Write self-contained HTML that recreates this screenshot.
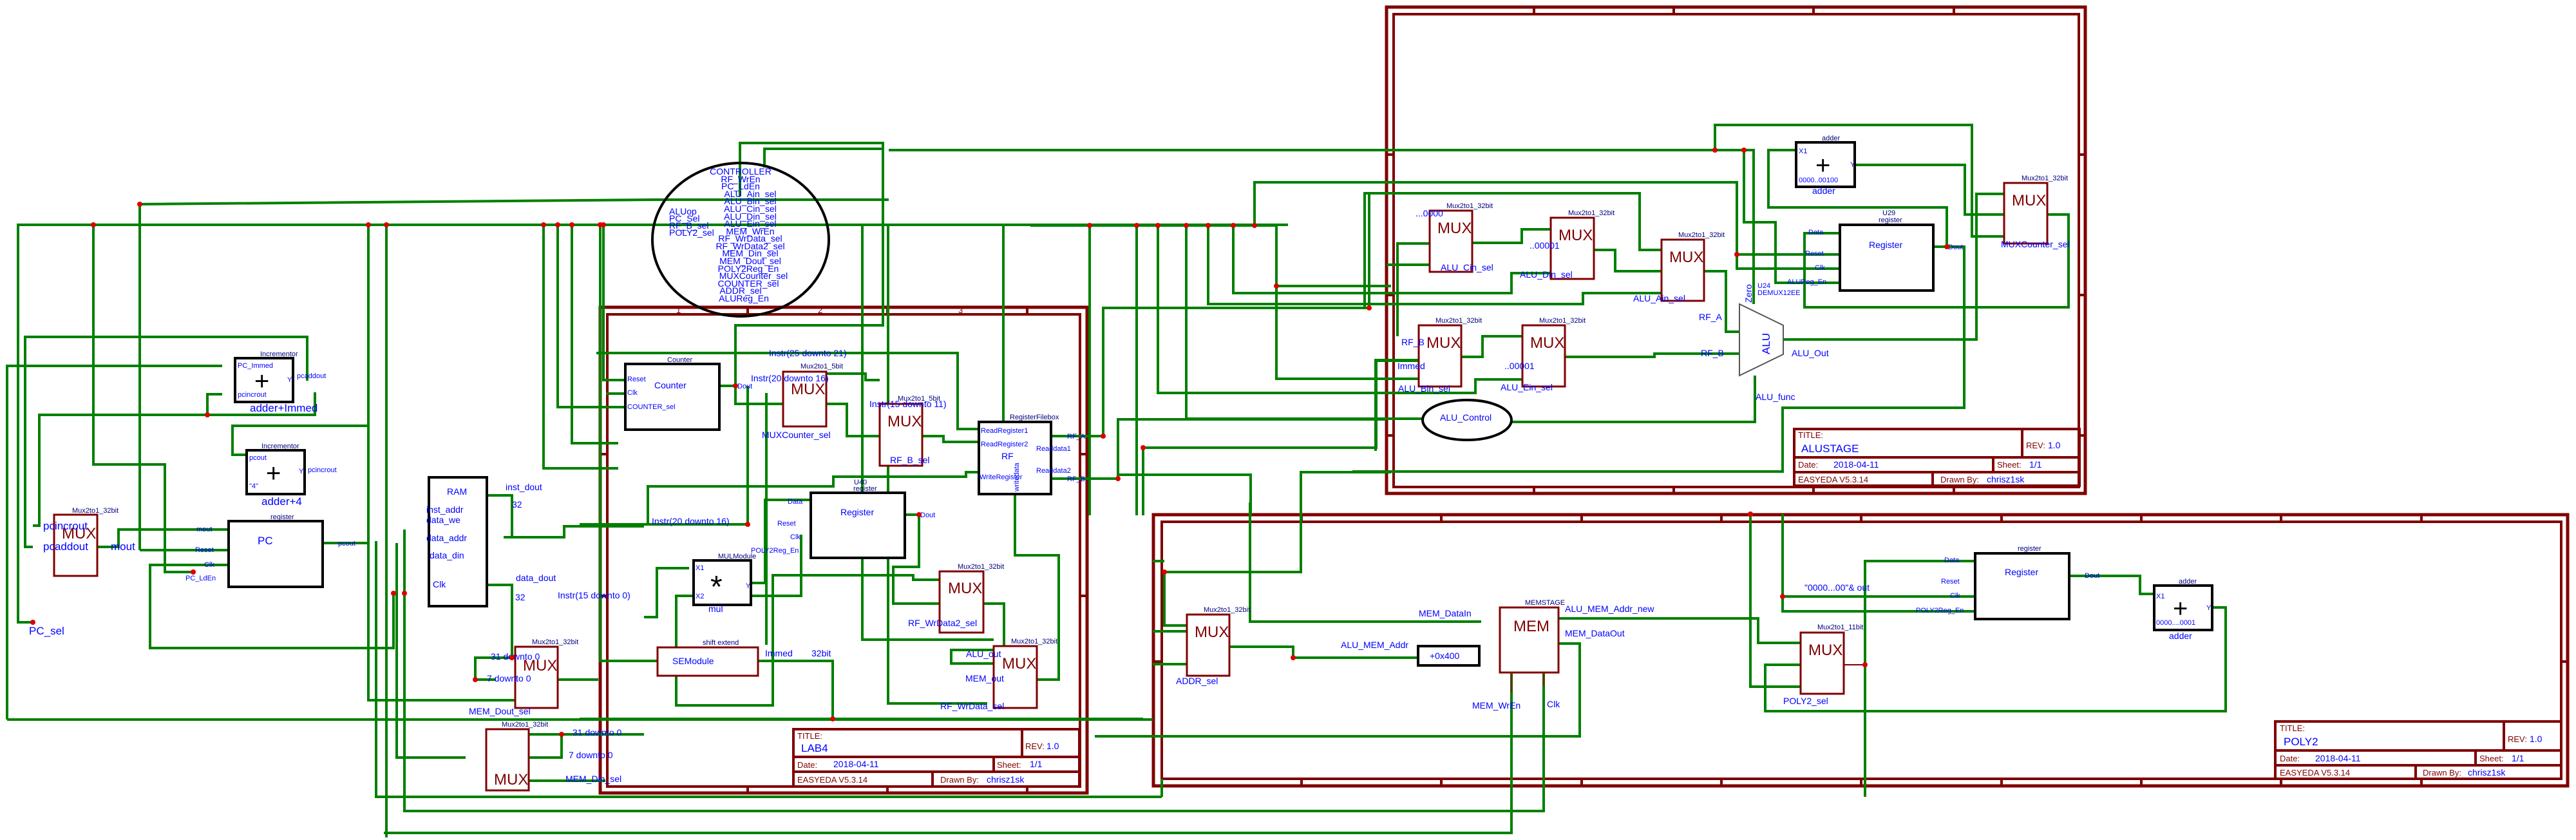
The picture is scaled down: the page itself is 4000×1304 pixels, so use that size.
<!DOCTYPE html>
<html><head><meta charset="utf-8"><style>
html,body{margin:0;padding:0;background:#fff;}
svg{display:block;font-family:"Liberation Sans","DejaVu Sans",sans-serif;}
.w{fill:none;stroke:#008000;stroke-width:4;}
.fr{fill:none;stroke:#800000;stroke-width:5;}
.fi{fill:none;stroke:#800000;stroke-width:4;}
.tk{stroke:#800000;stroke-width:4;}
.mx{fill:#fff;stroke:#800000;stroke-width:3;}
.pin{stroke:#800000;stroke-width:2;}
.bx{fill:#fff;stroke:#000;stroke-width:4;}
.mt{fill:#800000;font-size:24px;}
.b{fill:#0000ff;font-size:14px;}
.bs{fill:#0000ff;font-size:11px;}
.bl{fill:#0000ff;font-size:17px;}
.nm{fill:#000080;font-size:11px;}
.r{fill:#800000;font-size:13px;}
.dot{fill:#d00;}
</style></head><body>
<svg width="4000" height="1304" viewBox="0 0 4000 1304" xmlns="http://www.w3.org/2000/svg">
<rect width="4000" height="1304" fill="#fff"/>

<!-- FRAMES -->
<rect class="fr" x="932" y="477" width="756" height="754"/>
<rect class="fi" x="943" y="488" width="734" height="733"/>
<line class="tk" x1="1161" y1="477" x2="1161" y2="488"/><line class="tk" x1="1378" y1="477" x2="1378" y2="488"/><line class="tk" x1="1595" y1="477" x2="1595" y2="488"/>
<line class="tk" x1="1161" y1="1221" x2="1161" y2="1231"/><line class="tk" x1="1378" y1="1221" x2="1378" y2="1231"/><line class="tk" x1="1595" y1="1221" x2="1595" y2="1231"/>
<line class="tk" x1="932" y1="705" x2="943" y2="705"/><line class="tk" x1="932" y1="925" x2="943" y2="925"/><line class="tk" x1="1677" y1="705" x2="1688" y2="705"/><line class="tk" x1="1677" y1="925" x2="1688" y2="925"/>
<text class="r" x="1050" y="486" font-size="10">1</text><text class="r" x="1270" y="486" font-size="10">2</text><text class="r" x="1488" y="486" font-size="10">3</text>
<rect class="fr" x="2153" y="11" width="1085" height="755"/>
<rect class="fi" x="2164" y="22" width="1064" height="734"/>
<line class="tk" x1="2382" y1="11" x2="2382" y2="22"/><line class="tk" x1="2599" y1="11" x2="2599" y2="22"/><line class="tk" x1="2816" y1="11" x2="2816" y2="22"/><line class="tk" x1="3034" y1="11" x2="3034" y2="22"/>
<line class="tk" x1="2382" y1="756" x2="2382" y2="766"/><line class="tk" x1="2599" y1="756" x2="2599" y2="766"/><line class="tk" x1="2816" y1="756" x2="2816" y2="766"/><line class="tk" x1="3034" y1="756" x2="3034" y2="766"/>
<line class="tk" x1="2153" y1="240" x2="2164" y2="240"/><line class="tk" x1="2153" y1="458" x2="2164" y2="458"/><line class="tk" x1="2153" y1="676" x2="2164" y2="676"/>
<line class="tk" x1="3228" y1="240" x2="3238" y2="240"/><line class="tk" x1="3228" y1="458" x2="3238" y2="458"/><line class="tk" x1="3228" y1="676" x2="3238" y2="676"/>
<rect class="fr" x="1791" y="799" width="2196" height="421"/>
<rect class="fi" x="1804" y="810" width="2173" height="399"/>
<g class="tk">
<line x1="2021" y1="799" x2="2021" y2="810"/><line x1="2238" y1="799" x2="2238" y2="810"/><line x1="2456" y1="799" x2="2456" y2="810"/><line x1="2673" y1="799" x2="2673" y2="810"/><line x1="2890" y1="799" x2="2890" y2="810"/><line x1="3108" y1="799" x2="3108" y2="810"/><line x1="3325" y1="799" x2="3325" y2="810"/><line x1="3542" y1="799" x2="3542" y2="810"/><line x1="3760" y1="799" x2="3760" y2="810"/>
<line x1="2021" y1="1209" x2="2021" y2="1220"/><line x1="2238" y1="1209" x2="2238" y2="1220"/><line x1="2456" y1="1209" x2="2456" y2="1220"/><line x1="2673" y1="1209" x2="2673" y2="1220"/><line x1="2890" y1="1209" x2="2890" y2="1220"/><line x1="3108" y1="1209" x2="3108" y2="1220"/><line x1="3325" y1="1209" x2="3325" y2="1220"/><line x1="3542" y1="1209" x2="3542" y2="1220"/><line x1="3760" y1="1209" x2="3760" y2="1220"/>
<line x1="3977" y1="1027" x2="3987" y2="1027"/><line x1="1791" y1="1027" x2="1804" y2="1027"/>
</g>

<!-- WIRES -->
<g class="w">
<polyline points="217,854 217,317 1020,310"/>
<polyline points="355,854 217,854"/>
<polyline points="51,966 28,966 28,349 2000,349"/>
<polyline points="145,349 145,721 256,721 256,888 300,888"/>
<polyline points="51,849 39,849 39,523 477,523 477,591"/>
<polyline points="11,1117 11,568 345,568"/>
<polyline points="345,612 322,612 322,644"/>
<polyline points="51,816 61,816 61,644 489,644 489,609"/>
<polyline points="383,706 361,706 361,661 572,661"/>
<polyline points="572,349 572,1087 800,1087"/>
<polyline points="584,840 584,1237 1804,1237"/>
<polyline points="600,349 600,1300"/>
<polyline points="628,822 628,1259 2397,1259 2397,1044"/>
<polyline points="616,843 616,1176 723,1176"/>
<polyline points="611,921 611,1006 233,1006 233,877 355,877"/>
<polyline points="501,843 570,843"/>
<polyline points="151,849 184,849 184,822 355,822"/>
<polyline points="756,769 795,769 795,834 782,834"/>
<polyline points="782,834 876,834 876,817 1000,817"/>
<polyline points="756,908 795,908 795,1021 738,1021 738,1055 770,1055"/>
<polyline points="866,1055 929,1055"/>
<polyline points="11,1117 1790,1117"/>
<polyline points="821,1140 872,1140 872,1176 821,1176"/>
<polyline points="872,1140 1000,1140"/>
<polyline points="821,1212 940,1212"/>
<polyline points="844,349 844,727 960,727"/>
<polyline points="866,349 866,632 971,632"/>
<polyline points="888,349 888,688 960,688"/>
<polyline points="932,349 932,1026 1021,1026"/>
<polyline points="937,349 937,590 971,590"/>
<polyline points="941,611 971,611"/>
<polyline points="596,1293 2347,1293 2347,1044"/>
<polyline points="1149,305 1149,222 1371,222 1371,505 1142,505 1142,627 1216,627"/>
<polyline points="1117,599 1145,599"/>
<polyline points="1187,260 1187,231 1373,231"/>
<polyline points="926,548 1487,548 1487,666 1520,666"/>
<polyline points="900,814 1161,814 1161,599"/>
<polyline points="1006,814 1006,755 1294,755 1294,740 1500,740 1500,733 1520,733"/>
<polyline points="1283,627 1315,627 1315,677 1366,677"/>
<polyline points="1432,677 1465,677 1465,686 1520,686"/>
<polyline points="1405,799 1427,799 1427,880 1387,880 1387,937 1459,937"/>
<polyline points="1576,767 1576,862 1644,862 1644,1055 1610,1055"/>
<polyline points="1527,937 1559,937 1559,1009 1477,1009 1477,1030 1543,1030"/>
<polyline points="1177,1026 1293,1026 1293,1116"/>
<polyline points="1166,905 1188,905 1188,776 1259,776"/>
<polyline points="900,1116 1775,1116"/>
<polyline points="1020,310 1380,310"/>
<polyline points="1070,882 1020,882 1020,958 1000,958"/>
<polyline points="1070,925 1050,925 1050,1095 1200,1095 1200,893 1418,893 1418,900 1459,900"/>
<polyline points="1339,349 1339,993 1543,993"/>
<polyline points="1379,349 1379,1092 1533,1092"/>
<polyline points="1558,349 1558,655"/>
<polyline points="1283,580 1344,580 1344,590 1366,590"/>
<polyline points="1190,610 1190,1001"/>
<polyline points="1244,830 1244,925 1070,925"/>
<polyline points="1380,233 2723,233 2723,472"/>
<polyline points="1600,350 1982,350 1982,588 2203,588"/>
<polyline points="1982,444 2160,444"/>
<polyline points="1948,350 1948,283 2697,283 2697,417 2857,417"/>
<polyline points="1915,350 1915,455 2100,455 2347,455 2347,424 2408,424"/>
<polyline points="1876,350 1876,472 2458,472 2458,455 2580,455"/>
<polyline points="1798,350 1798,610 2291,610 2291,589 2364,589"/>
<polyline points="1842,350 1842,650 2209,650"/>
<polyline points="1765,350 1765,800"/>
<polyline points="1692,350 1692,800"/>
<polyline points="1632,677 1713,677 1713,478 2126,478 2126,300 2119,300"/>
<polyline points="1632,743 1736,743 1736,651 2152,651"/>
<polyline points="1736,737 1942,737 1942,800"/>
<polyline points="1775,800 1775,695 2137,695 2137,560 2203,560"/>
<polyline points="2020,800 2020,733 2160,733"/>
<polyline points="2119,477 2119,300 2546,300 2546,388 2580,388"/>
<polyline points="2663,233 2663,194 3062,194 3062,367 3112,367"/>
<polyline points="2708,233 2708,345 2757,345 2757,439 2857,439"/>
<polyline points="2697,395 2857,395"/>
<polyline points="2880,256 3051,256 3051,333 3112,333"/>
<polyline points="2789,233 2746,233 2746,322 3023,322 3023,383"/>
<polyline points="3002,383 3050,383 3050,633 2768,633 2768,732 2100,732"/>
<polyline points="3179,333 3212,333 3212,477 2802,477 2802,362 2857,362"/>
<polyline points="2769,527 3069,527 3069,301 3112,301"/>
<polyline points="2286,377 2363,377 2363,356 2408,356"/>
<polyline points="2475,388 2508,388 2508,421 2580,421"/>
<polyline points="2646,421 2680,421 2680,515 2701,515"/>
<polyline points="2269,554 2302,554 2302,522 2364,522"/>
<polyline points="2430,554 2569,554 2569,549 2701,549"/>
<polyline points="2347,655 2725,655 2725,583"/>
<polyline points="2170,522 2170,378 2220,378"/>
<polyline points="2153,411 2220,411"/>
<polyline points="2136,700 2136,559 2203,559"/>
<polyline points="1941,780 1941,965 2300,965"/>
<polyline points="2020,780 2020,888 1808,888 1808,971 1843,971"/>
<polyline points="1808,871 1790,871"/>
<polyline points="1909,1004 2008,1004 2008,1021 2202,1021"/>
<polyline points="2420,960 2730,960 2730,998 2796,998"/>
<polyline points="2718,798 2718,1066 2796,1066"/>
<polyline points="2768,798 2768,949 3067,949"/>
<polyline points="2768,926 3067,926"/>
<polyline points="2796,1032 2741,1032 2741,1104 3456,1104 3456,943 3435,943"/>
<polyline points="2896,1237 2896,871 3067,871"/>
<polyline points="3213,894 3323,894 3323,922 3345,922"/>
<polyline points="2420,999 2453,999 2453,1143 1700,1143"/>
<polyline points="1804,1209 1804,1237"/>
<polyline points="1790,980 1843,980"/>
<polyline points="1790,1031 1843,1031"/>
</g>

<!-- LEFT COMPONENTS -->
<rect class="mx" x="84" y="799" width="67" height="95"/>
<text class="mt" x="96" y="836">MUX</text>
<text class="nm" x="112" y="796">Mux2to1_32bit</text>
<text class="bl" x="67" y="822">pcincrout</text>
<text class="bl" x="67" y="854">pcaddout</text>
<text class="bl" x="172" y="854">mout</text>
<text class="bl" x="45" y="985">PC_sel</text>
<rect class="bx" x="365" y="556" width="90" height="68"/>
<text x="395" y="605" font-size="40" fill="#000">+</text>
<text class="nm" x="404" y="553">Incrementor</text>
<text class="bs" x="369" y="571">PC_Immed</text>
<text class="bs" x="369" y="616">pcincrout</text>
<text class="bs" x="446" y="593">Y</text>
<text class="bs" x="461" y="587">pcaddout</text>
<text class="bl" x="388" y="639">adder+Immed</text>
<rect class="bx" x="383" y="699" width="90" height="68"/>
<text x="413" y="748" font-size="40" fill="#000">+</text>
<text class="nm" x="406" y="696">Incrementor</text>
<text class="bs" x="387" y="714">pcout</text>
<text class="bs" x="387" y="758">"4"</text>
<text class="bs" x="464" y="735">Y</text>
<text class="bs" x="478" y="733">pcincrout</text>
<text class="bl" x="406" y="784">adder+4</text>
<rect class="bx" x="355" y="809" width="146" height="102"/>
<text class="nm" x="420" y="806">register</text>
<text class="bl" x="400" y="845">PC</text>
<text class="bs" x="305" y="825">mout</text>
<text class="bs" x="303" y="857">Reset</text>
<text class="bs" x="317" y="880">Clk</text>
<text class="bs" x="288" y="901">PC_LdEn</text>
<text class="bs" x="525" y="847">pcout</text>
<rect class="bx" x="666" y="741" width="90" height="200"/>
<text class="b" x="694" y="768">RAM</text>
<text class="b" x="662" y="796">inst_addr</text>
<text class="b" x="662" y="812">data_we</text>
<text class="b" x="662" y="840">data_addr</text>
<text class="b" x="667" y="867">data_din</text>
<text class="b" x="672" y="912">Clk</text>
<text class="b" x="785" y="761">inst_dout</text>
<text class="b" x="795" y="788">32</text>
<text class="b" x="801" y="902">data_dout</text>
<text class="b" x="800" y="932">32</text>
<text class="b" x="866" y="929">Instr(15 downto 0)</text>
<rect class="mx" x="800" y="1004" width="66" height="95"/>
<text class="mt" x="812" y="1041">MUX</text>
<text class="nm" x="826" y="1000">Mux2to1_32bit</text>
<text class="b" x="762" y="1024">31 downto 0</text>
<text class="b" x="756" y="1058">7 downto 0</text>
<text class="b" x="728" y="1109">MEM_Dout_sel</text>
<rect class="mx" x="755" y="1132" width="66" height="95"/>
<text class="mt" x="767" y="1218">MUX</text>
<text class="nm" x="779" y="1128">Mux2to1_32bit</text>
<text class="b" x="889" y="1142">31 downto 0</text>
<text class="b" x="883" y="1177">7 downto 0</text>
<text class="b" x="878" y="1214">MEM_Din_sel</text>

<!-- CONTROLLER -->
<ellipse cx="1150" cy="372" rx="137" ry="119" fill="none" stroke="#000" stroke-width="4"/>
<g class="b" font-size="14" text-anchor="middle">
<text x="1150" y="271">CONTROLLER</text>
<text x="1150" y="283">RF_WrEn</text>
<text x="1150" y="294">PC_LdEn</text>
<text x="1165" y="306">ALU_Ain_sel</text>
<text x="1165" y="317">ALU_Bin_sel</text>
<text x="1165" y="329">ALU_Cin_sel</text>
<text x="1165" y="341">ALU_Din_sel</text>
<text x="1165" y="352">ALU_Ein_sel</text>
<text x="1165" y="364">MEM_WrEn</text>
<text x="1165" y="375">RF_WrData_sel</text>
<text x="1165" y="387">RF_WrData2_sel</text>
<text x="1165" y="398">MEM_Din_sel</text>
<text x="1165" y="410">MEM_Dout_sel</text>
<text x="1162" y="422">POLY2Reg_En</text>
<text x="1170" y="433">MUXCounter_sel</text>
<text x="1162" y="445">COUNTER_sel</text>
<text x="1150" y="456">ADDR_sel</text>
<text x="1155" y="468">ALUReg_En</text>
</g>
<g class="b" font-size="14">
<text x="1039" y="333">ALUop</text>
<text x="1039" y="344">PC_Sel</text>
<text x="1039" y="355">RF_B_sel</text>
<text x="1039" y="366">POLY2_sel</text>
</g>

<!-- LAB4 COMPONENTS -->
<rect class="bx" x="971" y="565" width="146" height="102"/>
<text class="nm" x="1036" y="562">Counter</text>
<text class="b" x="1016" y="603">Counter</text>
<text class="bs" x="974" y="592">Reset</text>
<text class="bs" x="974" y="613">Clk</text>
<text class="bs" x="974" y="635">COUNTER_sel</text>
<text class="bs" x="1145" y="603">Dout</text>
<rect class="mx" x="1216" y="577" width="67" height="85"/>
<text class="mt" x="1228" y="612">MUX</text>
<text class="nm" x="1243" y="572">Mux2to1_5bit</text>
<text class="b" x="1194" y="553">Instr(25 downto 21)</text>
<text class="b" x="1166" y="592">Instr(20 downto 16)</text>
<text class="b" x="1183" y="680">MUXCounter_sel</text>
<rect class="mx" x="1366" y="627" width="66" height="96"/>
<text class="mt" x="1378" y="662">MUX</text>
<text class="nm" x="1394" y="622">Mux2to1_5bit</text>
<text class="b" x="1350" y="632">Instr(15 downto 11)</text>
<text class="b" x="1382" y="719">RF_B_sel</text>
<rect class="bx" x="1520" y="655" width="112" height="112"/>
<text class="nm" x="1568" y="651">RegisterFilebox</text>
<text class="bs" x="1523" y="672">ReadRegister1</text>
<text class="bs" x="1523" y="693">ReadRegister2</text>
<text class="b" x="1555" y="713">RF</text>
<text class="bs" x="1609" y="700">Readdata1</text>
<text class="bs" x="1609" y="734">Readdata2</text>
<text class="bs" x="1521" y="744">WriteRegister</text>
<text class="bs" transform="translate(1582,763) rotate(-90)">writedata</text>
<text class="bs" x="1657" y="681">RF_A</text>
<text class="bs" x="1657" y="747">RF_B</text>
<rect class="bx" x="1259" y="765" width="146" height="101"/>
<text class="nm" x="1326" y="752">U40</text>
<text class="nm" x="1325" y="762">register</text>
<text class="b" x="1305" y="800">Register</text>
<text class="bs" x="1223" y="782">Data</text>
<text class="bs" x="1207" y="816">Reset</text>
<text class="bs" x="1227" y="837">Clk</text>
<text class="bs" x="1166" y="858">POLY2Reg_En</text>
<text class="bs" x="1429" y="803">Dout</text>
<rect class="bx" x="1077" y="870" width="89" height="69"/>
<text x="1103" y="927" font-size="48" fill="#000">*</text>
<text class="nm" x="1115" y="867">MULModule</text>
<text class="bs" x="1080" y="885">X1</text>
<text class="bs" x="1080" y="929">X2</text>
<text class="bs" x="1158" y="913">Y</text>
<text class="b" x="1100" y="950">mul</text>
<rect class="mx" x="1021" y="1005" width="156" height="44"/>
<text class="nm" x="1091" y="1001">shift extend</text>
<text class="b" x="1044" y="1031">SEModule</text>
<text class="b" x="1188" y="1019">Immed</text>
<text class="b" x="1260" y="1019">32bit</text>
<text class="b" x="1012" y="814">Instr(20 downto 16)</text>
<rect class="mx" x="1459" y="887" width="68" height="95"/>
<text class="mt" x="1472" y="921">MUX</text>
<text class="nm" x="1487" y="883">Mux2to1_32bit</text>
<text class="b" x="1410" y="972">RF_WrData2_sel</text>
<rect class="mx" x="1543" y="1003" width="67" height="96"/>
<text class="mt" x="1556" y="1038">MUX</text>
<text class="nm" x="1570" y="999">Mux2to1_32bit</text>
<text class="b" x="1500" y="1020">ALU_out</text>
<text class="b" x="1499" y="1058">MEM_out</text>
<text class="b" x="1460" y="1101">RF_WrData_sel</text>
<rect x="1232" y="1132" width="444" height="89" fill="none" stroke="#800000" stroke-width="4"/>
<line class="tk" x1="1232" y1="1175" x2="1676" y2="1175"/>
<line class="tk" x1="1232" y1="1198" x2="1676" y2="1198"/>
<line class="tk" x1="1587" y1="1132" x2="1587" y2="1175"/>
<line class="tk" x1="1543" y1="1175" x2="1543" y2="1198"/>
<line class="tk" x1="1448" y1="1198" x2="1448" y2="1221"/>
<text class="r" x="1238" y="1147">TITLE:</text>
<text class="bl" x="1244" y="1167">LAB4</text>
<text class="r" x="1592" y="1163">REV:</text><text class="b" x="1625" y="1163">1.0</text>
<text class="r" x="1238" y="1192">Date:</text><text class="b" x="1294" y="1191">2018-04-11</text>
<text class="r" x="1548" y="1192">Sheet:</text><text class="b" x="1599" y="1191">1/1</text>
<text class="r" x="1238" y="1215">EASYEDA V5.3.14</text>
<text class="r" x="1460" y="1215">Drawn By:</text><text class="b" x="1532" y="1215">chrisz1sk</text>

<!-- ALU STAGE -->
<rect class="mx" x="2220" y="327" width="66" height="95"/>
<text class="mt" x="2232" y="362">MUX</text>
<text class="nm" x="2246" y="323">Mux2to1_32bit</text>
<text class="b" x="2198" y="336">...0000</text>
<text class="b" x="2237" y="420">ALU_Cin_sel</text>
<rect class="mx" x="2408" y="338" width="67" height="95"/>
<text class="mt" x="2420" y="373">MUX</text>
<text class="nm" x="2435" y="334">Mux2to1_32bit</text>
<text class="b" x="2375" y="386">..00001</text>
<text class="b" x="2360" y="431">ALU_Din_sel</text>
<rect class="mx" x="2580" y="372" width="66" height="95"/>
<text class="mt" x="2592" y="407">MUX</text>
<text class="nm" x="2606" y="368">Mux2to1_32bit</text>
<text class="b" x="2536" y="468">ALU_Ain_sel</text>
<rect class="mx" x="2203" y="505" width="66" height="95"/>
<text class="mt" x="2215" y="540">MUX</text>
<text class="nm" x="2229" y="501">Mux2to1_32bit</text>
<text class="b" x="2176" y="536">RF_B</text>
<text class="b" x="2170" y="573">Immed</text>
<text class="b" x="2171" y="608">ALU_Bin_sel</text>
<rect class="mx" x="2364" y="505" width="66" height="95"/>
<text class="mt" x="2376" y="540">MUX</text>
<text class="nm" x="2390" y="501">Mux2to1_32bit</text>
<text class="b" x="2336" y="573">..00001</text>
<text class="b" x="2330" y="606">ALU_Ein_sel</text>
<polygon points="2701,472 2769,505 2769,550 2701,583" fill="#fff" stroke="#555" stroke-width="2"/>
<text class="bl" transform="translate(2748,550) rotate(-90)">ALU</text>
<text class="b" transform="translate(2720,470) rotate(-90)">Zero</text>
<text class="bs" x="2729" y="447">U24</text>
<text class="bs" x="2729" y="458">DEMUX12EE</text>
<text class="b" x="2638" y="497">RF_A</text>
<text class="b" x="2641" y="553">RF_B</text>
<text class="b" x="2782" y="553">ALU_Out</text>
<text class="b" x="2726" y="621">ALU_func</text>
<ellipse cx="2278" cy="652" rx="69" ry="31" fill="none" stroke="#000" stroke-width="4"/>
<text class="b" x="2236" y="653">ALU_Control</text>
<rect class="bx" x="2789" y="221" width="91" height="69"/>
<text x="2819" y="270" font-size="40" fill="#000">+</text>
<text class="nm" x="2829" y="218">adder</text>
<text class="bs" x="2793" y="238">X1</text>
<text class="bs" x="2793" y="283">0000..00100</text>
<text class="bs" x="2873" y="259">Y</text>
<text class="b" x="2814" y="301">adder</text>
<rect class="bx" x="2857" y="349" width="145" height="102"/>
<text class="nm" x="2923" y="334">U29</text>
<text class="nm" x="2917" y="345">register</text>
<text class="b" x="2902" y="385">Register</text>
<text class="bs" x="2808" y="364">Data</text>
<text class="bs" x="2803" y="397">Reset</text>
<text class="bs" x="2818" y="419">Clk</text>
<text class="bs" x="2775" y="441">ALUReg_En</text>
<text class="bs" x="3025" y="387">Dout</text>
<rect class="mx" x="3112" y="284" width="67" height="94"/>
<text class="mt" x="3124" y="319">MUX</text>
<text class="nm" x="3139" y="280">Mux2to1_32bit</text>
<text class="b" x="3107" y="384">MUXCounter_sel</text>
<rect x="2786" y="666" width="443" height="88" fill="none" stroke="#800000" stroke-width="4"/>
<line class="tk" x1="2786" y1="710" x2="3229" y2="710"/>
<line class="tk" x1="2786" y1="733" x2="3229" y2="733"/>
<line class="tk" x1="3140" y1="666" x2="3140" y2="710"/>
<line class="tk" x1="3095" y1="710" x2="3095" y2="733"/>
<line class="tk" x1="3001" y1="733" x2="3001" y2="754"/>
<text class="r" x="2792" y="680">TITLE:</text>
<text class="bl" x="2797" y="702">ALUSTAGE</text>
<text class="r" x="3146" y="696">REV:</text><text class="b" x="3180" y="696">1.0</text>
<text class="r" x="2792" y="726">Date:</text><text class="b" x="2847" y="726">2018-04-11</text>
<text class="r" x="3101" y="726">Sheet:</text><text class="b" x="3151" y="726">1/1</text>
<text class="r" x="2792" y="749">EASYEDA V5.3.14</text>
<text class="r" x="3013" y="749">Drawn By:</text><text class="b" x="3085" y="749">chrisz1sk</text>

<!-- POLY2 -->
<rect class="mx" x="1843" y="954" width="66" height="95"/>
<text class="mt" x="1855" y="989">MUX</text>
<text class="nm" x="1869" y="950">Mux2to1_32bit</text>
<text class="b" x="1826" y="1062">ADDR_sel</text>
<rect class="bx" x="2202" y="1003" width="95" height="30"/>
<text class="b" x="2220" y="1023">+0x400</text>
<text class="b" x="2082" y="1006">ALU_MEM_Addr</text>
<text class="b" x="2203" y="957">MEM_DataIn</text>
<rect class="mx" x="2329" y="943" width="91" height="101"/>
<text class="mt" x="2350" y="980">MEM</text>
<text class="nm" x="2368" y="939">MEMSTAGE</text>
<text class="b" x="2430" y="950">ALU_MEM_Addr_new</text>
<text class="b" x="2430" y="988">MEM_DataOut</text>
<text class="b" x="2286" y="1100">MEM_WrEn</text>
<text class="b" x="2402" y="1098">Clk</text>
<line x1="2347" y1="1044" x2="2347" y2="1075" stroke="#663300" stroke-width="3"/>
<line x1="2397" y1="1044" x2="2397" y2="1065" stroke="#663300" stroke-width="3"/>
<text class="b" x="2802" y="917">"0000...00"&amp; out</text>
<rect class="mx" x="2796" y="982" width="67" height="95"/>
<text class="mt" x="2808" y="1017">MUX</text>
<text class="nm" x="2822" y="977">Mux2to1_11bit</text>
<text class="b" x="2769" y="1093">POLY2_sel</text>
<line class="pin" x1="2863" y1="1032" x2="2896" y2="1032"/>
<rect class="bx" x="3067" y="859" width="146" height="102"/>
<text class="nm" x="3133" y="855">register</text>
<text class="b" x="3113" y="893">Register</text>
<text class="bs" x="3019" y="873">Data</text>
<text class="bs" x="3014" y="906">Reset</text>
<text class="bs" x="3028" y="928">Clk</text>
<text class="bs" x="2975" y="951">POLY2Reg_En</text>
<text class="bs" x="3237" y="897">Dout</text>
<rect class="bx" x="3345" y="909" width="90" height="69"/>
<text x="3374" y="958" font-size="40" fill="#000">+</text>
<text class="nm" x="3383" y="906">adder</text>
<text class="bs" x="3348" y="929">X1</text>
<text class="bs" x="3348" y="970">0000....0001</text>
<text class="bs" x="3426" y="947">Y</text>
<text class="b" x="3368" y="992">adder</text>
<rect x="3533" y="1120" width="444" height="89" fill="none" stroke="#800000" stroke-width="4"/>
<line class="tk" x1="3533" y1="1165" x2="3977" y2="1165"/>
<line class="tk" x1="3533" y1="1188" x2="3977" y2="1188"/>
<line class="tk" x1="3888" y1="1120" x2="3888" y2="1165"/>
<line class="tk" x1="3844" y1="1165" x2="3844" y2="1188"/>
<line class="tk" x1="3751" y1="1188" x2="3751" y2="1209"/>
<text class="r" x="3540" y="1135">TITLE:</text>
<text class="bl" x="3546" y="1157">POLY2</text>
<text class="r" x="3894" y="1152">REV:</text><text class="b" x="3928" y="1152">1.0</text>
<text class="r" x="3540" y="1182">Date:</text><text class="b" x="3595" y="1182">2018-04-11</text>
<text class="r" x="3850" y="1182">Sheet:</text><text class="b" x="3900" y="1182">1/1</text>
<text class="r" x="3540" y="1204">EASYEDA V5.3.14</text>
<text class="r" x="3762" y="1204">Drawn By:</text><text class="b" x="3832" y="1204">chrisz1sk</text>

<g class="dot">
<circle cx="217" cy="317" r="4"/><circle cx="145" cy="349" r="4"/><circle cx="572" cy="349" r="4"/><circle cx="600" cy="349" r="4"/>
<circle cx="844" cy="349" r="4"/><circle cx="866" cy="349" r="4"/><circle cx="888" cy="349" r="4"/><circle cx="932" cy="349" r="4"/><circle cx="937" cy="349" r="4"/>
<circle cx="322" cy="644" r="4"/><circle cx="300" cy="888" r="4"/><circle cx="51" cy="966" r="4"/><circle cx="611" cy="921" r="4"/><circle cx="628" cy="921" r="4"/>
<circle cx="795" cy="1021" r="4"/><circle cx="738" cy="1055" r="4"/><circle cx="872" cy="1140" r="4"/>
<circle cx="1692" cy="350" r="4"/><circle cx="1765" cy="350" r="4"/><circle cx="1798" cy="350" r="4"/><circle cx="1842" cy="350" r="4"/><circle cx="1876" cy="350" r="4"/><circle cx="1915" cy="350" r="4"/><circle cx="1948" cy="350" r="4"/>
<circle cx="1713" cy="677" r="4"/><circle cx="1736" cy="743" r="4"/><circle cx="1775" cy="695" r="4"/><circle cx="2126" cy="478" r="4"/><circle cx="1982" cy="444" r="4"/>
<circle cx="2663" cy="233" r="4"/><circle cx="2708" cy="233" r="4"/><circle cx="2697" cy="395" r="4"/><circle cx="3023" cy="383" r="4"/>
<circle cx="2008" cy="1021" r="4"/><circle cx="2768" cy="926" r="4"/><circle cx="2718" cy="798" r="4"/><circle cx="2896" cy="1032" r="4"/><circle cx="1808" cy="888" r="4"/>
<circle cx="1142" cy="599" r="4"/><circle cx="1161" cy="814" r="4"/><circle cx="1427" cy="799" r="4"/><circle cx="1293" cy="1116" r="4"/>
</g>
</svg>
</body></html>
